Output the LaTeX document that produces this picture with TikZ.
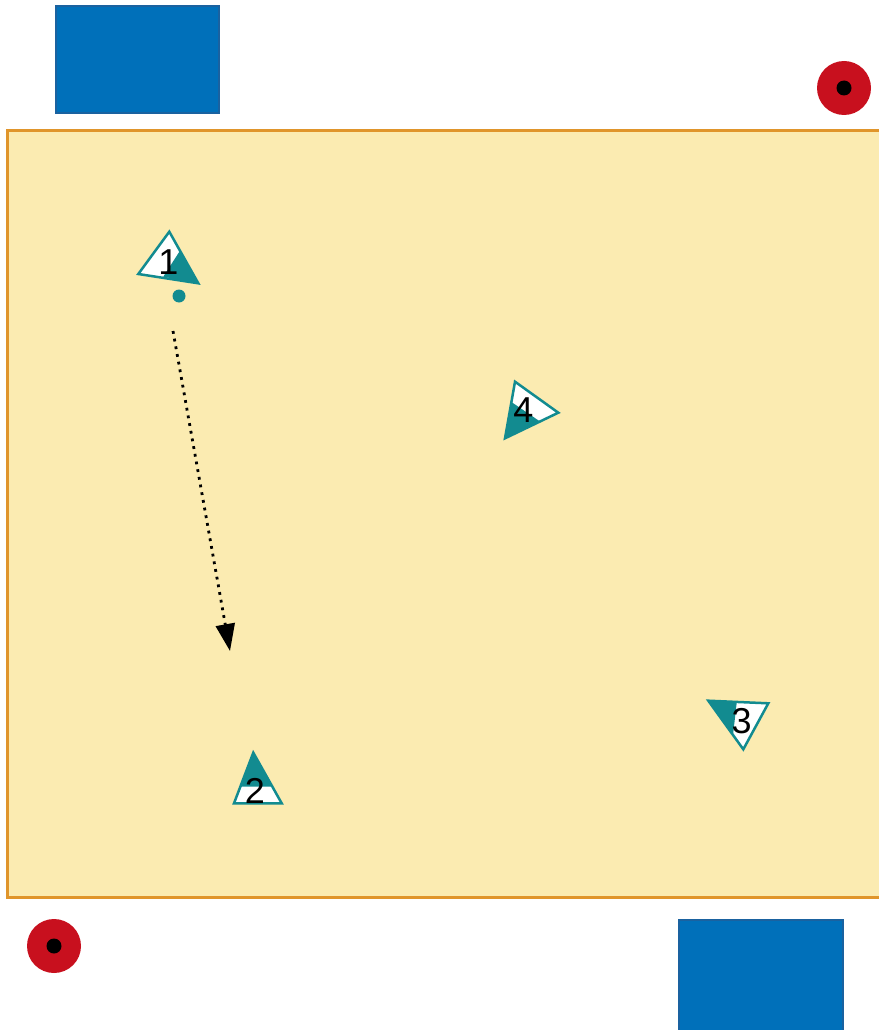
\documentclass[tikz,border=0pt]{standalone}
\usepackage{fontspec}
\setmainfont{Liberation Sans}
\usetikzlibrary{arrows.meta}
\definecolor{fieldfill}{HTML}{FBEBB1}
\definecolor{fieldline}{HTML}{E0952B}
\definecolor{goalblue}{HTML}{0070BA}
\definecolor{goalline}{HTML}{1A62A0}
\definecolor{conered}{HTML}{C8101E}
\definecolor{teal}{HTML}{128B90}
\tikzset{
  field/.style={fill=fieldfill,draw=fieldline,line width=3pt},
  goal/.style={fill=goalblue,draw=goalline,line width=1.5pt},
  cone/.style={fill=conered},
  conedot/.style={fill=black},
  tealpart/.style={fill=teal},
  whitepart/.style={fill=white},
  triline/.style={draw=teal,line width=2.5pt,line join=miter},
  num/.style={font=\fontsize{36}{36}\selectfont,inner sep=0pt},
  runarrow/.style={line width=2.8pt,dash pattern=on 2.8pt off 5pt,-{Triangle[length=27pt,width=19pt]}}
}
\begin{document}
\begin{tikzpicture}[x=1pt,y=-1pt]
\useasboundingbox (0,0) rectangle (878,1030);
% field
\draw[field] (890,131) -- (7,131) -- (7,897) -- (890,897);
% goals
\draw[goal] (56,6) rectangle (219,113);
\draw[goal] (679,920) rectangle (843,1040);
% cones
\fill[cone] (844,88) circle (27);
\fill[conedot] (844,88) circle (7.5);
\fill[cone] (54,946) circle (27);
\fill[conedot] (54,946) circle (7.5);
% triangle 1
\fill[whitepart] (169.3,231.7) -- (138.3,274) -- (198.3,283.3) -- cycle;
\fill[tealpart] (180,250.7) -- (198.3,283.3) -- (163.3,276.7) -- cycle;
\draw[triline] (169.3,231.7) -- (138.3,274) -- (198.3,283.3) -- cycle;
\node[num] (n1) at (168.5,262) {1};
\fill[teal] (179,296) circle (6.5);
% triangle 2
\fill[whitepart] (253.3,752.7) -- (234,803.3) -- (281.7,803.3) -- cycle;
\fill[tealpart] (253.3,752.7) -- (240.4,786.7) -- (272.3,786.7) -- cycle;
\draw[triline] (253.3,752.7) -- (234,803.3) -- (281.7,803.3) -- cycle;
\node[num] (n2) at (255,791) {2};
% triangle 3
\fill[whitepart] (708.3,700.7) -- (768.3,703.3) -- (743.3,749.3) -- cycle;
\fill[tealpart] (708.3,700.7) -- (736.7,702.7) -- (733,735) -- cycle;
\draw[triline] (708.3,700.7) -- (768.3,703.3) -- (743.3,749.3) -- cycle;
\node[num] (n3) at (741.5,721) {3};
% triangle 4
\fill[whitepart] (515,381.7) -- (558.3,412.7) -- (505,438.3) -- cycle;
\fill[tealpart] (505,438.3) -- (511.4,402) -- (540,421.5) -- cycle;
\draw[triline] (515,381.7) -- (558.3,412.7) -- (505,438.3) -- cycle;
\node[num] (n4) at (523.5,410) {4};
% run
\coordinate (runstart) at (173,331);
\coordinate (runend) at (230,651);
\draw[runarrow] (runstart) -- (runend);
\end{tikzpicture}
\end{document}
